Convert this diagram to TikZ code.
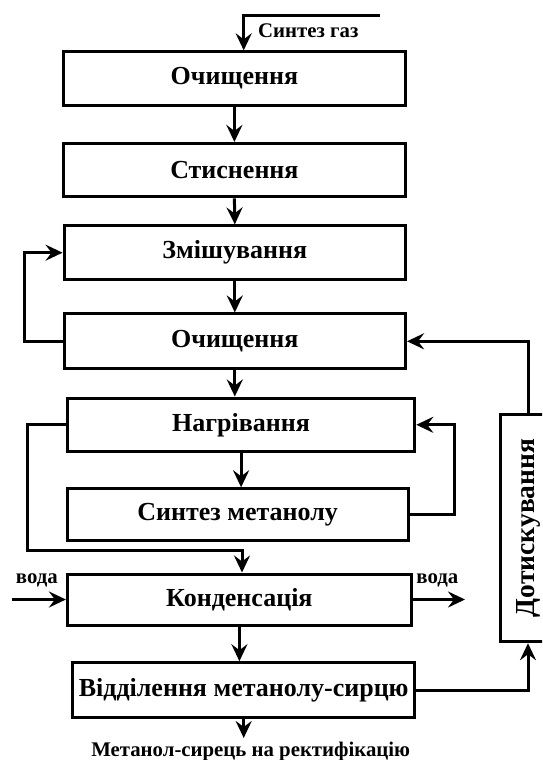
\documentclass[tikz,border=0pt]{standalone}
\usepackage{fontspec}
\setmainfont{Liberation Serif}
\usetikzlibrary{arrows.meta}
\begin{document}
\begin{tikzpicture}[x=1pt,y=-1pt,
  line width=3pt,
  box/.style={draw, line width=3pt, inner sep=0pt, font=\bfseries\fontsize{26}{31}\selectfont},
  lbl/.style={inner sep=0pt, font=\bfseries\fontsize{20.8}{25}\selectfont},
  arr/.style={-{Stealth[length=17pt,width=16pt,inset=6pt]}},
]
\useasboundingbox (0,0) rectangle (542,760);
\clip (0,0) rectangle (542,760);
% boxes
\node[box, minimum width=342, minimum height=53.5] (b1) at (234.4,78.6) {Очищення};
\node[box, minimum width=342, minimum height=53.5] (b2) at (234.4,170.2) {Стиснення};
\node[box, minimum width=341.5, minimum height=53.6] (b3) at (234.8,252.7) {Змішування};
\node[box, minimum width=341.5, minimum height=54.7] (b4) at (234.8,341.3) {Очищення};
\node[box, minimum width=347.4, minimum height=53.6] (b5) at (241.1,424.8) {Нагрівання};
\node[box, minimum width=340.6, minimum height=52] (b6) at (237.7,514.8) {Синтез метанолу};
\node[box, minimum width=344, minimum height=51] (b7) at (239.4,599.5) {Конденсація};
\node[box, minimum width=342.2, minimum height=54.6] (b8) at (243.7,690) {Відділення метанолу-сирцю};
\node[box, minimum width=55.4, minimum height=227.7] (b9) at (528,527.9) {};
\node[rotate=90, inner sep=0pt, font=\bfseries\fontsize{27.5}{32}\selectfont] (t9) at (b9.center) {Дотискування};
% inlet
\coordinate (s0) at (380,15.6);
\coordinate (s1) at (243.7,15.6);
\draw[arr] (s0) -- (s1) -- (s1 |- b1.north);
\node[lbl, anchor=west] (sg) at (256.7,30.4) {Синтез газ};
% main chain
\draw[arr] (b1.south) -- (b2.north);
\draw[arr] (b2.south) -- (b3.north);
\draw[arr] (b3.south) -- (b4.north);
\draw[arr] (b4.south) -- (b4.south |- b5.north);
\draw[arr] (b5.south) -- (b5.south |- b6.north);
\draw[arr] (b7.south) -- (b7.south |- b8.north);
% loops
\draw[arr] (b4.west) -- ++(-38.1,0) |- (b3.west);
\draw[arr] (b6.east) -- ++(44.9,0) |- (b5.east);
\coordinate (k1) at (242,550);
\draw[arr] (b5.west) -| (27.7,550) -- (k1) -- (k1 |- b7.north);
\draw[arr] (b8.east) -| (b9.south);
\draw[arr] (b9.north) |- (b4.east);
% water
\coordinate (w0) at (12,599.5);
\coordinate (w1) at (465,599.5);
\draw[arr] (w0) -- (b7.west);
\draw[arr] (b7.east) -- (w1);
\node[lbl] (v1) at (36.8,580) {вода};
\node[lbl] (v2) at (437.3,580) {вода};
% output
\coordinate (m0) at (243.7,738);
\draw[arr] (b8.south) -- (m0);
\node[lbl] (out) at (250.7,751.7) {Метанол-сирець на ректифікацію};
\end{tikzpicture}
\end{document}
